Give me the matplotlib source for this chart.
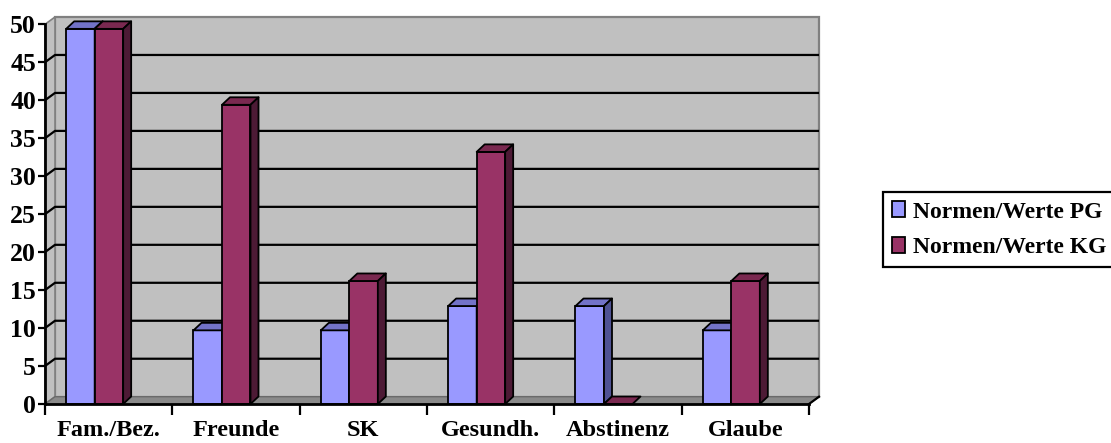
import matplotlib
matplotlib.use("Agg")
import matplotlib.pyplot as plt
from matplotlib.patches import Polygon, Patch
import numpy as np

categories = ["Fam./Bez.", "Freunde", "SK", "Gesundh.", "Abstinenz", "Glaube"]
pg_values = [49.4, 9.7, 9.7, 12.9, 12.9, 9.7]
kg_values = [49.4, 39.4, 16.2, 33.2, 0.0, 16.2]
series_names = ["Normen/Werte PG", "Normen/Werte KG"]
y_ticks = [0, 5, 10, 15, 20, 25, 30, 35, 40, 45, 50]

plt.rcParams["font.family"] = ["Liberation Serif", "DejaVu Serif"]
plt.rcParams["font.weight"] = "bold"

# face colours: front, top, side
pg_cols = ("#9999ff", "#7373c8", "#4f5293")
kg_cols = ("#993366", "#7a2950", "#4d1a35")
wall_col = "#c0c0c0"
floor_col = "#8a8a8a"

W, H = 1111, 443
fig = plt.figure(figsize=(W / 100, H / 100), dpi=100)
L, B, R, T = 45, 404, 809, 24.3  # front plane frame in pixels
ax = fig.add_axes([L / W, 1 - B / H, (R - L) / W, (B - T) / H])
n = len(categories)
ymax = 50
ax.set_xlim(0, n)
ax.set_ylim(0, ymax)
ux = n / (R - L)      # data units per pixel, x
uy = ymax / (B - T)   # data units per pixel, y

# depth of walls and of the columns
wdx, wdy = 10 * ux, 7.3 * uy
bdx, bdy = 8 * ux, 7.5 * uy

# back wall, side wall and floor
ax.add_patch(Polygon([(wdx, wdy), (n + wdx, wdy), (n + wdx, ymax + wdy), (wdx, ymax + wdy)],
                     closed=True, fc=wall_col, ec="#808080", lw=1.6, clip_on=False, zorder=0))
ax.add_patch(Polygon([(0, 0), (wdx, wdy), (wdx, ymax + wdy), (0, ymax)],
                     closed=True, fc=wall_col, ec="#808080", lw=1.2, clip_on=False, zorder=0.1))
ax.add_patch(Polygon([(0, 0), (n, 0), (n + wdx, wdy), (wdx, wdy)],
                     closed=True, fc=floor_col, ec="#6a6a6a", lw=1.0, clip_on=False, zorder=0.2))

# gridlines across the side wall and back wall
for v in y_ticks[1:-1]:
    ax.plot([0, wdx, n + wdx], [v, v + wdy, v + wdy], color="black", lw=1.6,
            clip_on=False, zorder=0.5, solid_capstyle="butt")

# columns
bw = 28.5 * ux
shift = -14 * ux
centers = np.arange(n) + 0.5 + shift
pg_left = centers - bw
kg_left = centers


def add_series(lefts, vals, cols, z):
    ax.bar(lefts, vals, width=bw, align="edge", color=cols[0], edgecolor="black",
           lw=1.3, zorder=z)
    for x0, v in zip(lefts, vals):
        x1 = x0 + bw
        top = [(x0, v), (x1, v), (x1 + bdx, v + bdy), (x0 + bdx, v + bdy)]
        side = [(x1, 0), (x1 + bdx, bdy), (x1 + bdx, v + bdy), (x1, v)]
        ax.add_patch(Polygon(top, closed=True, fc=cols[1], ec="black", lw=1.3,
                             zorder=z + 0.05, clip_on=False, joinstyle="round"))
        if v > 0:
            ax.add_patch(Polygon(side, closed=True, fc=cols[2], ec="black", lw=1.3,
                                 zorder=z + 0.05, clip_on=False, joinstyle="round"))


add_series(pg_left, pg_values, pg_cols, 3)
add_series(kg_left, kg_values, kg_cols, 3.2)

# axes
for s in ("top", "right"):
    ax.spines[s].set_visible(False)
ax.spines["left"].set_linewidth(2)
ax.spines["bottom"].set_linewidth(2)
ax.spines["left"].set_zorder(5)
ax.spines["bottom"].set_zorder(5)
ax.plot([n, n + wdx], [0, wdy], color="black", lw=1.6, clip_on=False, zorder=5)

ax.set_yticks(y_ticks)
ax.set_yticklabels([str(v) for v in y_ticks], fontsize=18.5, fontweight="bold")
ax.tick_params(axis="y", direction="out", length=5, width=1.6, pad=1.5)

ax.set_xticks(np.arange(n + 1))
ax.set_xticklabels([])
ax.tick_params(axis="x", which="major", direction="out", length=8, width=1.6)
ax.set_xticks(np.arange(n) + 0.5, minor=True)
ax.set_xticklabels(categories, minor=True, fontsize=17.5, fontweight="bold")
ax.tick_params(axis="x", which="minor", length=0, pad=11.5)

handles = [Patch(fc=pg_cols[0], ec="black", lw=1.3), Patch(fc=kg_cols[0], ec="black", lw=1.3)]
leg = fig.legend(handles, series_names, loc="upper left",
                 bbox_to_anchor=(883 / W, 1 - 192 / H), frameon=True, fancybox=False,
                 edgecolor="black", framealpha=1, prop={"size": 17, "weight": "bold"},
                 handlelength=0.55, handleheight=0.65, handletextpad=0.3,
                 borderpad=0.4, labelspacing=0.6, borderaxespad=0)
leg.get_frame().set_linewidth(1.6)

fig.savefig("out.png", dpi=100)
